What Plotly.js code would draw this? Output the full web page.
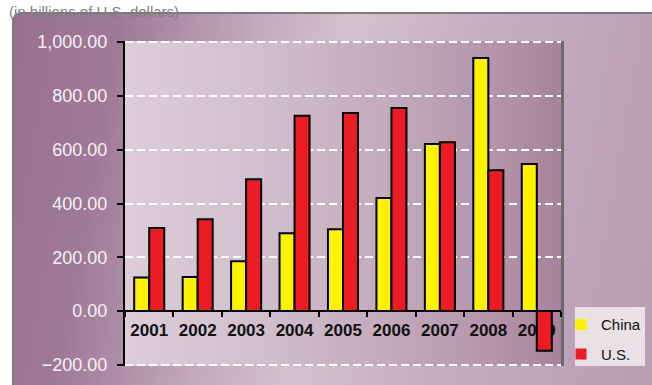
<!DOCTYPE html>
<html>
<head>
<meta charset="utf-8">
<script src="https://cdn.plot.ly/plotly-3.0.1.min.js"></script>
<style>
  html, body { margin: 0; padding: 0; width: 652px; height: 385px; overflow: hidden; background: #ffffff; }
  #frame {
    position: absolute; left: 12px; top: 12px; width: 700px; height: 420px;
    border: 2px solid #7a7a7a; border-radius: 9px; box-sizing: border-box;
    background: linear-gradient(100deg, #98718f 0%, #9f7a96 14%, #c3aabd 32%, #d3c2ce 44%, #c6aec0 62%, #bba0b5 85%, #b89cb2 100%);
  }
  #plotbg {
    position: absolute; left: 125px; top: 41px; width: 436px; height: 325px;
    border-right: 3px solid #6c6a6c;
    background: linear-gradient(to right, #dccdd9 0%, #d1c0cd 30%, #c3aabc 60%, #b494ab 85%, #a7839b 100%);
  }
  #chart { position: absolute; left: 0; top: 0; width: 652px; height: 385px; }
</style>
</head>
<body>
<div id="frame"></div>
<div id="plotbg"></div>
<div id="chart"></div>
<script>
// Data (billions of U.S. dollars)
const years = ["2001", "2002", "2003", "2004", "2005", "2006", "2007", "2008", "2009"];
const china = [125, 127, 185, 289, 304, 420, 621, 941, 547];
const us = [309, 341, 490, 726, 736, 755, 628, 524, -147];
const seriesNames = ["China", "U.S."];
const yTicks = [-200, 0, 200, 400, 600, 800, 1000];
const subtitle = "(in billions of U.S. dollars)";

const yRange = [-204, 1004];
const zeroPos = (0 - yRange[0]) / (yRange[1] - yRange[0]);

const barLine = { color: "#000000", width: 2 };
const traces = [
  { type: "bar", x: years, y: china, name: seriesNames[0], showlegend: false,
    marker: { color: "#fff200", line: barLine } },
  { type: "bar", x: years, y: us, name: seriesNames[1], showlegend: false,
    marker: { color: "#ed1c24", line: barLine } },
  { type: "scatter", mode: "markers", x: [null], y: [null], name: seriesNames[0], legendgroup: "c",
    marker: { symbol: "square", size: 11, color: "#fff200" }, hoverinfo: "skip" },
  { type: "scatter", mode: "markers", x: [null], y: [null], name: seriesNames[1], legendgroup: "u",
    marker: { symbol: "square", size: 11, color: "#ed1c24" }, hoverinfo: "skip" }
];

const layout = {
  width: 652, height: 385,
  margin: { l: 125, r: 91, t: 41, b: 19, pad: 0, autoexpand: false },
  paper_bgcolor: "rgba(0,0,0,0)",
  plot_bgcolor: "rgba(0,0,0,0)",
  font: { family: "Liberation Sans, Arial, sans-serif", color: "#000000" },
  barmode: "group",
  bargap: 0.38,
  bargroupgap: 0.0,
  showlegend: true,
  legend: {
    x: 1.0, xanchor: "left", y: 0.178, yanchor: "top",
    xref: "paper", yref: "paper",
    bgcolor: "rgba(0,0,0,0)", borderwidth: 0,
    font: { family: "Liberation Sans, Arial, sans-serif", size: 15, color: "#111111" },
    tracegroupgap: 7, traceorder: "grouped", itemwidth: 30
  },
  shapes: [
    { type: "rect", xref: "paper", yref: "paper", x0: 1.0321, x1: 1.1927, y0: 0.0, y1: 0.1815,
      fillcolor: "#e9e1e6", line: { width: 0 }, layer: "below" }
  ],
  xaxis: {
    type: "category",
    anchor: "free", position: zeroPos,
    showline: true, linecolor: "#000000", linewidth: 2,
    ticks: "outside", tickson: "boundaries", ticklen: 5, tickwidth: 2, tickcolor: "#000000",
    tickfont: { family: "Liberation Sans Narrow, Liberation Sans, Arial, sans-serif", size: 17, color: "#111111", weight: "bold" },
    ticklabelstandoff: 3,
    showgrid: false, zeroline: false,
    layer: "below traces",
    fixedrange: true
  },
  yaxis: {
    range: yRange,
    tickvals: yTicks,
    tickformat: ",.2f",
    showline: true, linecolor: "#000000", linewidth: 2,
    ticks: "outside", ticklen: 6, tickwidth: 2, tickcolor: "#000000",
    tickfont: { family: "Liberation Sans, Arial, sans-serif", size: 18, color: "#f6f1f4" },
    ticklabelstandoff: 6,
    showgrid: true, gridcolor: "#ffffff", gridwidth: 2, griddash: "8px,4px",
    zeroline: false,
    fixedrange: true
  },
  annotations: [
    { text: subtitle, xref: "paper", yref: "paper", x: 0, y: 1,
      xanchor: "left", yanchor: "bottom", xshift: -118, yshift: 19,
      showarrow: false, font: { family: "Liberation Sans, Arial, sans-serif", size: 15, color: "#808080" } }
  ]
};

Plotly.newPlot("chart", traces, layout, { displayModeBar: false, staticPlot: true });
</script>
</body>
</html>
